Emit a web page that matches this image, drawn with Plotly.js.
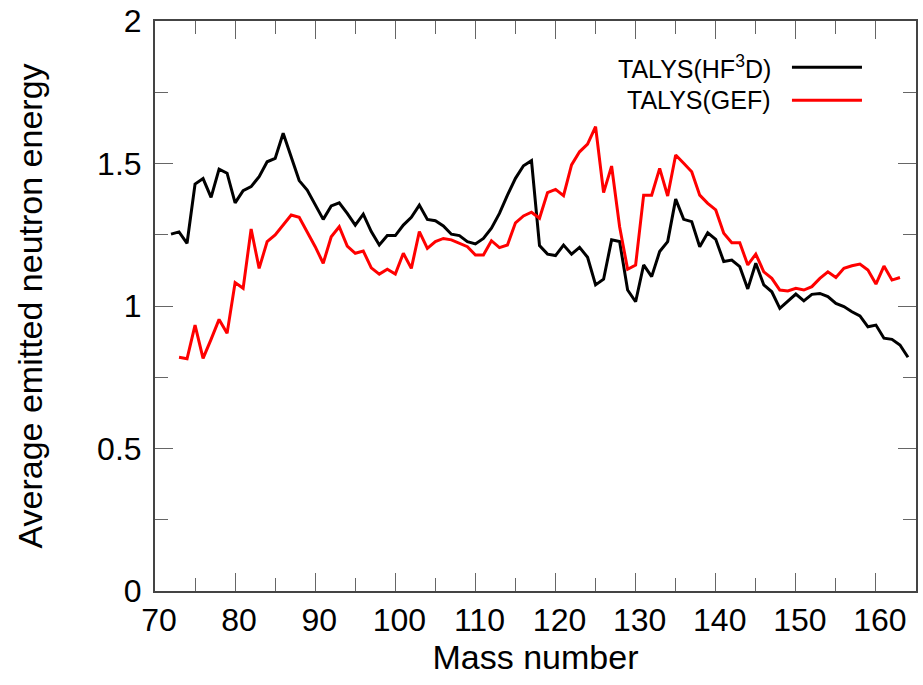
<!DOCTYPE html>
<html>
<head>
<meta charset="utf-8">
<script src="https://cdn.plot.ly/plotly-3.0.1.min.js"></script>
<style>
  html, body { margin: 0; padding: 0; background: #fff; }
  #chart { width: 923px; height: 685px; }
</style>
</head>
<body>
<div id="chart"></div>
<script>
// Average emitted neutron energy per fission fragment mass number
const massHF3D = [72,73,74,75,76,77,78,79,80,81,82,83,84,85,86,87,88,89,90,91,92,93,94,95,96,97,98,99,
  100,101,102,103,104,105,106,107,108,109,110,111,112,113,114,115,116,117,118,119,120,121,122,123,124,125,
  126,127,128,129,130,131,132,133,134,135,136,137,138,139,140,141,142,143,144,145,146,147,148,149,150,151,
  152,153,154,155,156,157,158,159,160,161,162,163,164];
const energyHF3D = [1.252,1.26,1.22,1.428,1.447,1.381,1.48,1.466,1.362,1.405,1.419,1.454,1.506,1.518,1.606,
  1.524,1.44,1.407,1.354,1.304,1.351,1.362,1.325,1.284,1.322,1.261,1.214,1.247,
  1.247,1.284,1.311,1.354,1.304,1.299,1.281,1.252,1.247,1.226,1.218,1.237,1.273,1.325,1.389,1.448,1.492,1.51,
  1.212,1.182,1.177,1.214,1.182,1.206,1.171,1.074,1.094,1.232,1.226,1.056,1.015,
  1.144,1.103,1.191,1.226,1.375,1.304,1.296,1.208,1.257,1.234,1.156,1.161,1.138,1.06,1.15,1.074,1.05,0.992,
  1.018,1.042,1.018,1.041,1.044,1.033,1.009,0.998,0.98,0.965,0.927,0.933,0.887,0.883,0.863,0.82];

const massGEF = [73,74,75,76,77,78,79,80,81,82,83,84,85,86,87,88,89,90,91,92,93,94,95,96,97,98,99,
  100,101,102,103,104,105,106,107,108,109,110,111,112,113,114,115,116,117,118,119,120,121,122,123,124,125,
  126,127,128,129,130,131,132,133,134,135,136,137,138,139,140,141,142,143,144,145,146,147,148,149,150,151,
  152,153,154,155,156,157,158,159,160,161,162,163];
const energyGEF = [0.82,0.815,0.933,0.816,0.883,0.953,0.904,1.082,1.062,1.27,1.132,1.226,1.249,1.284,1.319,
  1.311,1.261,1.208,1.15,1.243,1.278,1.21,1.185,1.193,1.134,1.112,1.129,
  1.112,1.185,1.132,1.261,1.202,1.226,1.237,1.232,1.22,1.208,1.179,1.179,1.229,1.205,1.214,1.292,1.316,1.329,
  1.308,1.398,1.409,1.387,1.495,1.541,1.568,1.629,1.398,1.491,1.278,1.129,1.144,
  1.389,1.389,1.483,1.386,1.53,1.501,1.471,1.389,1.36,1.337,1.255,1.222,1.222,1.144,1.182,1.12,1.097,1.056,
  1.053,1.062,1.056,1.068,1.097,1.12,1.1,1.132,1.141,1.147,1.126,1.077,1.14,1.091,1.1];

const seriesNames = ['TALYS(HF<sup>3</sup>D)', 'TALYS(GEF)'];
const seriesColors = ['#000000', '#ff0000'];

const xTicks = [70,80,90,100,110,120,130,140,150,160];
const yTicks = [0,0.5,1,1.5,2];
const yTickText = ['0','0.5','1','1.5','2'];

const FONT = 'Liberation Sans, Arial, Helvetica, sans-serif';
const AXIS_COLOR = '#444444';
const TICK_COLOR = '#666666';

const traces = [
  { x: massHF3D, y: energyHF3D, name: seriesNames[0], type: 'scatter', mode: 'lines',
    line: { color: seriesColors[0], width: 3 } },
  { x: massGEF, y: energyGEF, name: seriesNames[1], type: 'scatter', mode: 'lines',
    line: { color: seriesColors[1], width: 3 } }
];

// Key drawn as right-aligned labels followed by a short line sample
const keyRows = [0.919, 0.861];
const annotations = seriesNames.map((n, i) => ({
  xref: 'paper', yref: 'paper', x: 0.812, y: keyRows[i],
  xanchor: 'right', yanchor: 'middle', text: n, showarrow: false,
  font: { family: FONT, size: 25, color: '#000' }
}));
const shapes = seriesColors.map((c, i) => ({
  type: 'line', xref: 'paper', yref: 'paper',
  x0: 0.837, x1: 0.929, y0: keyRows[i], y1: keyRows[i],
  line: { color: c, width: 3 }
}));

const axisCommon = {
  showgrid: false, zeroline: false, showline: true, linecolor: AXIS_COLOR, linewidth: 2,
  mirror: 'ticks', ticks: 'inside', ticklen: 18, tickwidth: 1, tickcolor: TICK_COLOR,
  tickfont: { family: FONT, size: 32, color: '#000' }
};

const layout = {
  width: 923, height: 685,
  margin: { l: 155, r: 7, t: 21, b: 94 },
  paper_bgcolor: '#ffffff', plot_bgcolor: '#ffffff',
  showlegend: false,
  xaxis: Object.assign({}, axisCommon, {
    range: [70, 165], tickvals: xTicks, ticklabelshift: 4,
    minor: { dtick: 5, tick0: 70, ticks: 'inside', ticklen: 13, tickwidth: 1, tickcolor: TICK_COLOR, showgrid: false },
    title: { text: 'Mass number', font: { family: FONT, size: 34, color: '#000' }, standoff: 6 }
  }),
  yaxis: Object.assign({}, axisCommon, {
    range: [0, 2], tickvals: yTicks, ticktext: yTickText, ticklabelstandoff: 5,
    minor: { dtick: 0.25, tick0: 0, ticks: 'inside', ticklen: 13, tickwidth: 1, tickcolor: TICK_COLOR, showgrid: false },
    title: { text: 'Average emitted neutron energy', font: { family: FONT, size: 34, color: '#000' }, standoff: 44 }
  }),
  annotations: annotations,
  shapes: shapes
};

Plotly.newPlot('chart', traces, layout, { displayModeBar: false, staticPlot: true });
</script>
</body>
</html>
